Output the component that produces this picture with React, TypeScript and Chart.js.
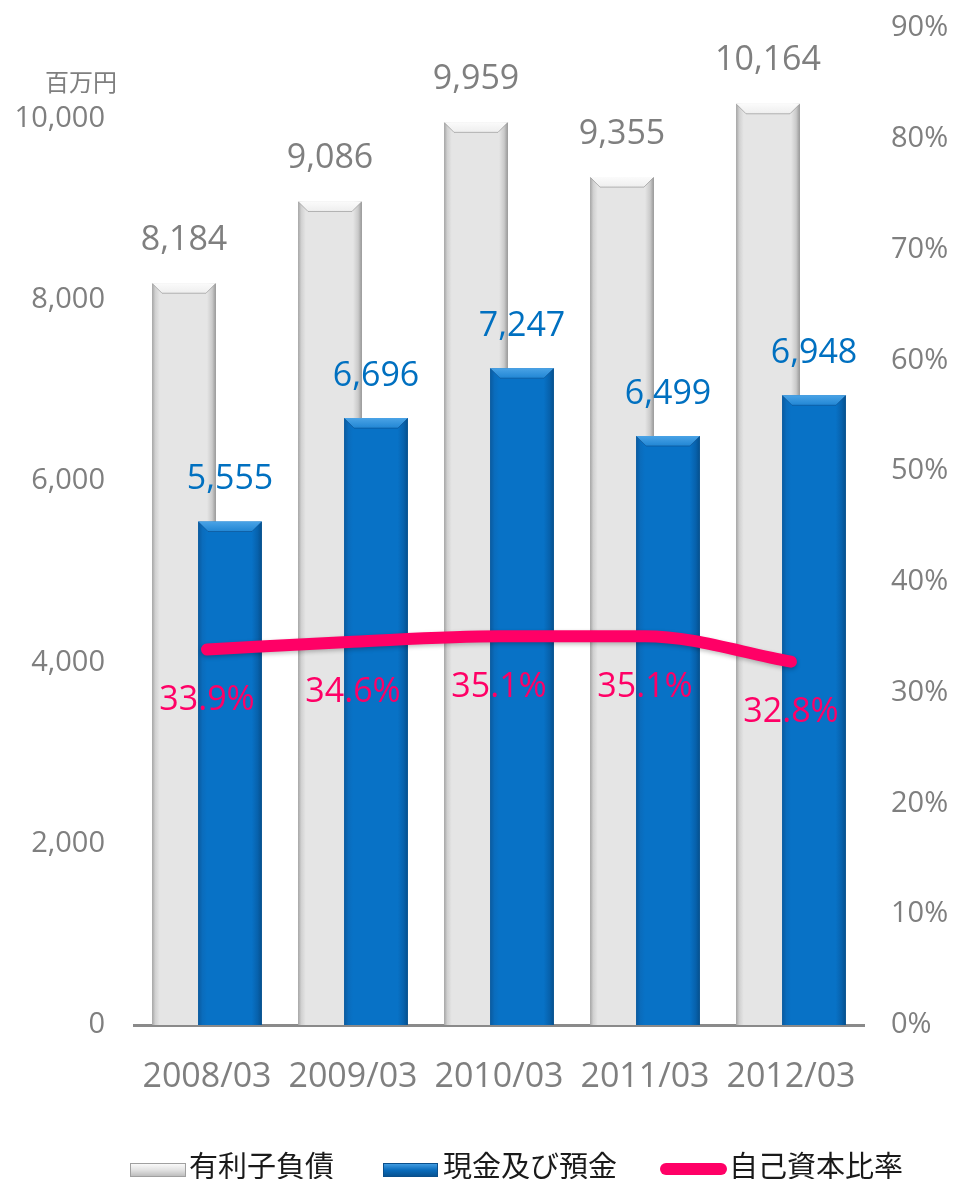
import React, { useEffect, useRef } from "react";
import { Chart, registerables } from "chart.js";

Chart.register(...registerables);

const CATEGORIES = ["2008/03", "2009/03", "2010/03", "2011/03", "2012/03"];
const DEBT = [8184, 9086, 9959, 9355, 10164];
const CASH = [5555, 6696, 7247, 6499, 6948];
const EQUITY_RATIO = [33.9, 34.6, 35.1, 35.1, 32.8];
const SERIES_NAMES = ["有利子負債", "現金及び預金", "自己資本比率"];
const LEFT_TICKS = [0, 2000, 4000, 6000, 8000, 10000];
const RIGHT_TICKS = [0, 10, 20, 30, 40, 50, 60, 70, 80, 90];
const LEFT_MAX = 11000;
const RIGHT_MAX = 90;
const UNIT_LABEL = "百万円";

const CAT_PCT = 0.63;
const BAR_PCT = 1.39;
const FONT = "'Open Sans', 'Noto Sans CJK JP', sans-serif";
const JP_FONT = "'Noto Sans CJK JP', 'Noto Sans', sans-serif";
const GRAY_TEXT = "#7f7f7f";
const BLUE = "#0872c6";
const PINK = "#ff0066";

const DS_GRAY = 0;
const DS_BLUE = 1;
const DS_LINE = 2;

function barGeom(chart: any, left: boolean, i: number) {
  const xs = chart.scales.x;
  const cw = xs.width / CATEGORIES.length;
  const chunk = (cw * CAT_PCT) / 2;
  const c = xs.getPixelForValue(i) + (left ? -chunk / 2 : chunk / 2);
  const w = chunk * BAR_PCT;
  return { x0: c - w / 2, x1: c + w / 2, c };
}

function grayFill(ctx: any) {
  const chart = ctx.chart;
  if (!chart.chartArea || ctx.dataIndex == null) return "#e6e6e6";
  const { x0, x1 } = barGeom(chart, true, ctx.dataIndex);
  const g = chart.ctx.createLinearGradient(x0, 0, x1, 0);
  g.addColorStop(0, "#a3a3a3");
  g.addColorStop(0.05, "#d0d0d0");
  g.addColorStop(0.12, "#e5e5e5");
  g.addColorStop(0.86, "#e5e5e5");
  g.addColorStop(0.94, "#cacaca");
  g.addColorStop(1, "#969696");
  return g;
}

function blueFill(ctx: any) {
  const chart = ctx.chart;
  if (!chart.chartArea || ctx.dataIndex == null) return BLUE;
  const { x0, x1 } = barGeom(chart, false, ctx.dataIndex);
  const g = chart.ctx.createLinearGradient(x0, 0, x1, 0);
  g.addColorStop(0, "#0a5a9e");
  g.addColorStop(0.07, "#0a6cbc");
  g.addColorStop(0.14, BLUE);
  g.addColorStop(0.84, BLUE);
  g.addColorStop(0.93, "#0762ad");
  g.addColorStop(1, "#054f8c");
  return g;
}

function drawBevels(chart: any, index: number) {
  const isGray = index === DS_GRAY;
  const ctx = chart.ctx;
  const meta = chart.getDatasetMeta(index);
  meta.data.forEach((bar: any) => {
    const x0 = bar.x - bar.width / 2;
    const x1 = bar.x + bar.width / 2;
    const top = bar.y;
    const b = 10;
    ctx.save();
    const g = ctx.createLinearGradient(0, top, 0, top + b);
    if (isGray) {
      g.addColorStop(0, "#fbfbfb");
      g.addColorStop(1, "#eeeeee");
    } else {
      g.addColorStop(0, "#4aa3e6");
      g.addColorStop(1, "#2186d4");
    }
    ctx.fillStyle = g;
    ctx.beginPath();
    ctx.moveTo(x0, top);
    ctx.lineTo(x1, top);
    ctx.lineTo(x1 - b, top + b);
    ctx.lineTo(x0 + b, top + b);
    ctx.closePath();
    ctx.fill();
    ctx.strokeStyle = isGray ? "rgba(140,140,140,0.6)" : "rgba(10,70,130,0.5)";
    ctx.lineWidth = 1;
    ctx.beginPath();
    ctx.moveTo(x0 + 0.5, top + 0.5);
    ctx.lineTo(x0 + b, top + b);
    ctx.lineTo(x1 - b, top + b);
    ctx.lineTo(x1 - 0.5, top + 0.5);
    ctx.stroke();
    ctx.restore();
  });
}

// Draw datasets in the order gray bars -> blue bars -> line (bottom to top)
const drawOrderPlugin = {
  id: "drawOrder",
  beforeDatasetsDraw(chart: any) {
    [DS_GRAY, DS_BLUE, DS_LINE].forEach((i) => {
      const meta = chart.getDatasetMeta(i);
      chart.ctx.save();
      if (i === DS_LINE) {
        chart.ctx.shadowColor = "rgba(0,0,0,0.25)";
        chart.ctx.shadowBlur = 4;
        chart.ctx.shadowOffsetY = 2;
      }
      meta.controller.draw();
      chart.ctx.restore();
      if (i !== DS_LINE) drawBevels(chart, i);
    });
  },
  beforeDatasetDraw() {
    return false;
  },
};

const labelsPlugin = {
  id: "valueLabels",
  afterDatasetsDraw(chart: any) {
    const ctx = chart.ctx;
    ctx.save();
    ctx.textAlign = "center";
    ctx.textBaseline = "middle";
    ctx.font = `34px ${FONT}`;
    const m0 = chart.getDatasetMeta(DS_GRAY);
    const m1 = chart.getDatasetMeta(DS_BLUE);
    const m2 = chart.getDatasetMeta(DS_LINE);
    DEBT.forEach((v, i) => {
      const bar = m0.data[i];
      ctx.fillStyle = GRAY_TEXT;
      ctx.fillText(v.toLocaleString("en-US"), bar.x, bar.y - 43);
    });
    CASH.forEach((v, i) => {
      const bar = m1.data[i];
      ctx.fillStyle = "#0070c0";
      ctx.fillText(v.toLocaleString("en-US"), bar.x, bar.y - 42);
    });
    EQUITY_RATIO.forEach((v, i) => {
      const p = m2.data[i];
      ctx.fillStyle = PINK;
      ctx.fillText(v.toFixed(1) + "%", p.x, p.y + 51);
    });
    ctx.textAlign = "right";
    ctx.fillStyle = GRAY_TEXT;
    ctx.font = `24px ${JP_FONT}`;
    ctx.fillText(UNIT_LABEL, 117, 82);
    ctx.restore();
  },
};

const legendPlugin = {
  id: "customLegend",
  afterDraw(chart: any) {
    const ctx = chart.ctx;
    const yc = 1169;
    ctx.save();
    let g = ctx.createLinearGradient(0, 1163, 0, 1177);
    g.addColorStop(0, "#fdfdfd");
    g.addColorStop(0.5, "#e2e2e2");
    g.addColorStop(1, "#b8b8b8");
    ctx.fillStyle = g;
    ctx.fillRect(130, 1163, 56, 14);
    ctx.strokeStyle = "#a0a0a0";
    ctx.lineWidth = 1;
    ctx.strokeRect(130.5, 1163.5, 55, 13);
    g = ctx.createLinearGradient(0, 1163, 0, 1177);
    g.addColorStop(0, "#4aa3e6");
    g.addColorStop(0.5, "#0a6cbc");
    g.addColorStop(1, "#064f8c");
    ctx.fillStyle = g;
    ctx.fillRect(383, 1163, 55, 14);
    ctx.strokeStyle = "#0a4f8c";
    ctx.strokeRect(383.5, 1163.5, 54, 13);
    ctx.strokeStyle = PINK;
    ctx.lineWidth = 12;
    ctx.lineCap = "round";
    ctx.beginPath();
    ctx.moveTo(666, yc);
    ctx.lineTo(721, yc);
    ctx.stroke();
    ctx.fillStyle = "#1a1a1a";
    ctx.font = `29px ${JP_FONT}`;
    ctx.textAlign = "left";
    ctx.textBaseline = "middle";
    ctx.fillText(SERIES_NAMES[0], 189, 1166);
    ctx.fillText(SERIES_NAMES[1], 443, 1166);
    ctx.fillText(SERIES_NAMES[2], 729, 1166);
    ctx.restore();
  },
};

export default function App() {
  const ref = useRef<HTMLCanvasElement>(null);
  useEffect(() => {
    document.body.style.margin = "0";
    const canvas = ref.current!;
    const chart = new Chart(canvas, {
      type: "bar",
      data: {
        labels: CATEGORIES,
        datasets: [
          {
            type: "bar",
            label: SERIES_NAMES[0],
            data: DEBT,
            backgroundColor: grayFill as any,
            borderWidth: 0,
            yAxisID: "y",
          },
          {
            type: "bar",
            label: SERIES_NAMES[1],
            data: CASH,
            backgroundColor: blueFill as any,
            borderWidth: 0,
            yAxisID: "y",
          },
          {
            type: "line",
            label: SERIES_NAMES[2],
            data: EQUITY_RATIO,
            borderColor: PINK,
            backgroundColor: PINK,
            borderWidth: 12,
            borderCapStyle: "round",
            borderJoinStyle: "round",
            pointRadius: 0,
            cubicInterpolationMode: "monotone",
            yAxisID: "y1",
          } as any,
        ],
      },
      options: {
        animation: false,
        responsive: false,
        devicePixelRatio: 1,
        datasets: {
          bar: { categoryPercentage: CAT_PCT, barPercentage: BAR_PCT },
        },
        layout: { padding: { top: 28, bottom: 84, left: 0, right: 0 } },
        plugins: {
          legend: { display: false },
          tooltip: { enabled: false },
        },
        scales: {
          x: {
            type: "category",
            offset: true,
            grid: { display: false },
            border: { display: true, color: "#8a8a8a", width: 3 },
            ticks: {
              color: GRAY_TEXT,
              font: { family: FONT, size: 34 },
              padding: 24,
              maxRotation: 0,
            },
            afterFit: (s: any) => {
              s.height = 70;
            },
          },
          y: {
            position: "left",
            min: 0,
            max: LEFT_MAX,
            grid: { display: false },
            border: { display: false },
            ticks: {
              color: GRAY_TEXT,
              font: { family: FONT, size: 29 },
              padding: 21,
              callback: (v: any) => Number(v).toLocaleString("en-US"),
            },
            afterBuildTicks: (s: any) => {
              s.ticks = LEFT_TICKS.map((v) => ({ value: v }));
            },
            afterFit: (s: any) => {
              s.width = 134;
              s.paddingTop = 0;
              s.paddingBottom = 0;
            },
          },
          y1: {
            position: "right",
            min: 0,
            max: RIGHT_MAX,
            grid: { display: false },
            border: { display: false },
            ticks: {
              color: GRAY_TEXT,
              font: { family: FONT, size: 29 },
              padding: 19,
              callback: (v: any) => v + "%",
            },
            afterBuildTicks: (s: any) => {
              s.ticks = RIGHT_TICKS.map((v) => ({ value: v }));
            },
            afterFit: (s: any) => {
              s.width = 93;
              s.paddingTop = 0;
              s.paddingBottom = 0;
            },
          },
        },
      },
      plugins: [drawOrderPlugin, labelsPlugin, legendPlugin],
    });
    return () => chart.destroy();
  }, []);
  return (
    <canvas
      ref={ref}
      width={957}
      height={1179}
      style={{ display: "block", width: 957, height: 1179 }}
    />
  );
}
